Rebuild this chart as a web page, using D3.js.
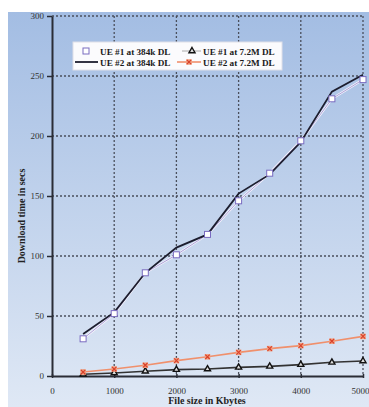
<!DOCTYPE html>
<html><head><meta charset="utf-8">
<script src="https://cdn.jsdelivr.net/npm/d3@7"></script>
<style>html,body{margin:0;padding:0;background:#fff;overflow:hidden}</style>
</head><body>
<svg id="c" width="369" height="407"></svg>
<script>
const fileSizes = [500,1000,1500,2000,2500,3000,3500,4000,4500,5000];
const ue1_384k = [31,52,86,101,118,146,169,196,231,247];
const ue2_384k = [35,53,86,107,118,152,168,195,237,251];
const ue1_72M = [1.5,2.5,4,5.3,5.8,7.2,8,9.5,11.4,12.5];
const ue2_72M = [3.3,5.8,9,12.8,16,19.7,22.8,25.3,29,33];
const xTicks = [0,1000,2000,3000,4000,5000];
const yTicks = [0,50,100,150,200,250,300];
const legendLabels = ["UE #1 at 384k DL","UE #1 at 7.2M DL","UE #2 at 384k DL","UE #2 at 7.2M DL"];
const xTitle = "File size in Kbytes";
const yTitle = "Download time in secs";

const svg = d3.select("#c");
const defs = svg.append("defs");
const g = defs.append("linearGradient").attr("id","bg").attr("x1",0).attr("y1",0).attr("x2",0).attr("y2",1);
g.append("stop").attr("offset","0%").attr("stop-color","#a3bde3");
g.append("stop").attr("offset","100%").attr("stop-color","#dfe8f5");
svg.append("rect").attr("x",8).attr("y",12).attr("width",361).attr("height",395).attr("fill","url(#bg)");

const x = d3.scaleLinear().domain([0,5000]).range([52,363]);
const y = d3.scaleLinear().domain([0,300]).range([376,16]);
const font = "'Liberation Serif','Times New Roman',serif";

// grid
svg.append("g").selectAll("line").data(xTicks.slice(1)).join("line")
  .attr("x1",d=>x(d)).attr("x2",d=>x(d)).attr("y1",y(300)).attr("y2",y(0))
  .attr("stroke","#4a4f5c").attr("stroke-width",1.3).attr("stroke-dasharray","2,2");
svg.append("g").selectAll("line").data(yTicks.slice(1)).join("line")
  .attr("x1",x(0)).attr("x2",x(5000)).attr("y1",d=>y(d)).attr("y2",d=>y(d))
  .attr("stroke","#4a4f5c").attr("stroke-width",1.3).attr("stroke-dasharray","2,2");

// axes
const xa = svg.append("g").attr("transform",`translate(0,${y(0)})`)
  .call(d3.axisBottom(x).tickValues(xTicks).tickFormat(d3.format("d")).tickSize(4).tickSizeOuter(0).tickPadding(8));
const ya = svg.append("g").attr("transform",`translate(${x(0)},0)`)
  .call(d3.axisLeft(y).tickValues(yTicks).tickFormat(d3.format("d")).tickSize(4).tickSizeOuter(0).tickPadding(4));
[xa,ya].forEach(a=>{
  a.select(".domain").attr("stroke","#2a2d36").attr("stroke-width",2);
  a.selectAll(".tick line").attr("stroke","#2a2d36").attr("stroke-width",1.5);
  a.selectAll("text").attr("font-family",font).attr("font-size",9).attr("fill","#333");
});
xa.selectAll(".tick line").attr("y1",-2).attr("y2",2);
ya.selectAll(".tick line").attr("x1",-5).attr("x2",0);
xa.selectAll(".tick text").filter(d=>d===5000).attr("text-anchor","end").attr("dx",6);

svg.append("text").attr("x",207).attr("y",404).attr("text-anchor","middle")
  .attr("font-family",font).attr("font-size",10).attr("font-weight","bold").attr("fill","#222").text(xTitle);
svg.append("text").attr("transform","translate(25,216) rotate(-90)").attr("text-anchor","middle")
  .attr("font-family",font).attr("font-size",10).attr("font-weight","bold").attr("fill","#222").text(yTitle);

const line = d3.line().x((d,i)=>x(fileSizes[i])).y(d=>y(d));

svg.append("path").datum(ue1_72M).attr("d",line).attr("fill","none").attr("stroke","#333").attr("stroke-width",1.6);
svg.append("path").datum(ue2_72M).attr("d",line).attr("fill","none").attr("stroke","#f0906c").attr("stroke-width",1.6);
svg.append("path").datum(ue1_384k).attr("d",line).attr("fill","none").attr("stroke","#f4f2fb").attr("stroke-width",2.4);
svg.append("path").datum(ue1_384k).attr("d",line).attr("fill","none").attr("stroke","#9a8fcf").attr("stroke-width",0.8);
svg.append("path").datum(ue2_384k).attr("d",line).attr("fill","none").attr("stroke","#1c1d2e").attr("stroke-width",1.8);

const tri = d3.symbol().type(d3.symbolTriangle).size(16);
function drawSquare(sel,cx,cy){sel.append("rect").attr("x",cx-3).attr("y",cy-3).attr("width",6).attr("height",6)
  .attr("fill","#fff").attr("stroke","#7a6cc0").attr("stroke-width",1);}
function drawTri(sel,cx,cy){sel.append("path").attr("d",tri).attr("transform",`translate(${cx},${cy})`)
  .attr("fill","#ddd").attr("stroke","#111").attr("stroke-width",1.4);}
function drawStar(sel,cx,cy){sel.append("rect").attr("x",cx-2.8).attr("y",cy-2.8).attr("width",5.6).attr("height",5.6)
  .attr("fill","#f2a080");
  sel.append("path").attr("d",`M${cx-2.2},${cy-2.2}L${cx+2.2},${cy+2.2}M${cx-2.2},${cy+2.2}L${cx+2.2},${cy-2.2}`)
  .attr("stroke","#d8402a").attr("stroke-width",1.2);}

const mk = svg.append("g");
ue1_72M.forEach((v,i)=>drawTri(mk,x(fileSizes[i]),y(v)));
ue2_72M.forEach((v,i)=>drawStar(mk,x(fileSizes[i]),y(v)));
ue1_384k.forEach((v,i)=>drawSquare(mk,x(fileSizes[i]),y(v)));

// legend
const lg = svg.append("g");
lg.append("rect").attr("x",73).attr("y",42).attr("width",209).attr("height",28).attr("fill","#fbfbfd").attr("stroke","#e0e0e8");
const lt = (tx,ty,t)=>lg.append("text").attr("x",tx).attr("y",ty).attr("font-family",font).attr("font-size",9.2)
  .attr("font-weight","bold").attr("fill","#1a1a1a").text(t);
drawSquare(lg,86,51);
lt(100,54.5,legendLabels[0]);
lg.append("line").attr("x1",182).attr("x2",201).attr("y1",51).attr("y2",51).attr("stroke","#aaa").attr("stroke-width",1);
drawTri(lg,192,51);
lt(203,54.5,legendLabels[1]);
lg.append("line").attr("x1",75).attr("x2",98).attr("y1",62).attr("y2",62).attr("stroke","#1c1d2e").attr("stroke-width",1.8);
lt(100,65.5,legendLabels[2]);
lg.append("line").attr("x1",177).attr("x2",201).attr("y1",62).attr("y2",62).attr("stroke","#f0906c").attr("stroke-width",1.6);
drawStar(lg,189,62);
lt(203,65.5,legendLabels[3]);
</script>
</body></html>
